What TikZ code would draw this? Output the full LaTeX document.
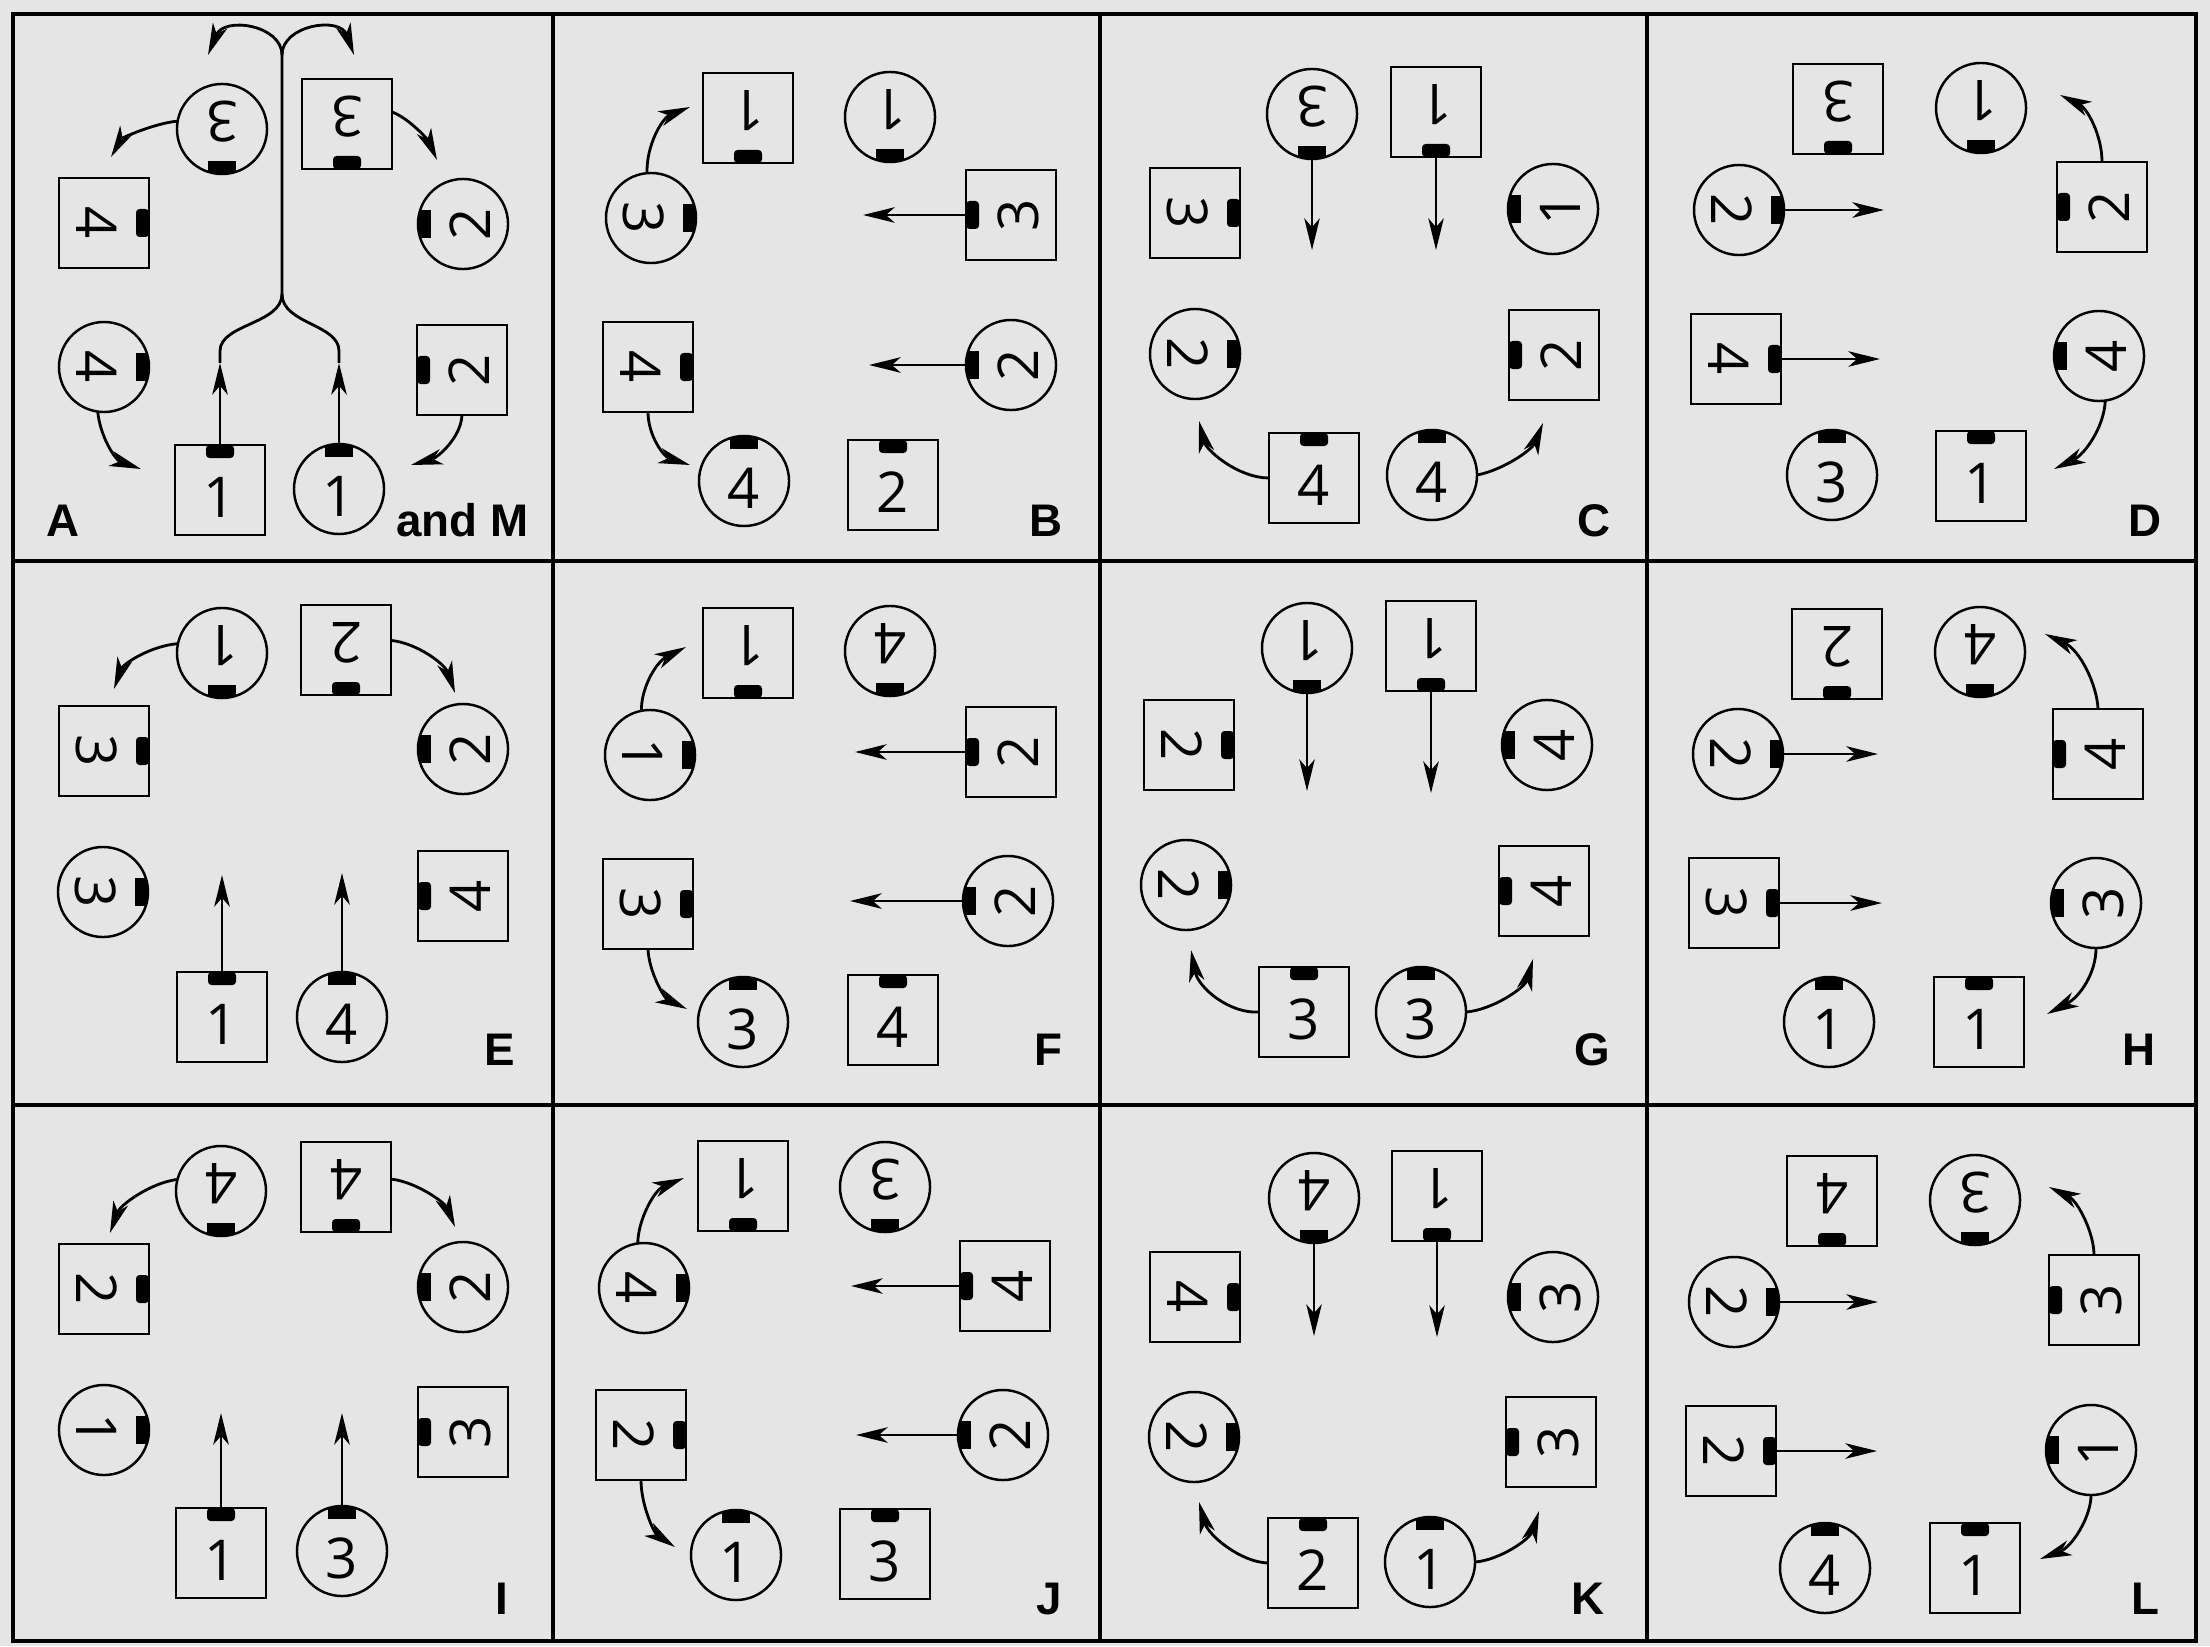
\documentclass[tikz,border=0pt]{standalone}
\usepackage{fontspec}
\newfontfamily\labfont{Liberation Sans}
\newfontfamily\digfont{Open Sans}
\usetikzlibrary{arrows.meta}
\definecolor{bg}{RGB}{229,229,229}
\tikzset{
  sym/.style={draw, line width=0.7pt, minimum size=0.9cm, inner sep=0pt, outer sep=0pt},
  sq/.style={sym, rectangle},
  ci/.style={sym, circle},
  dig/.style={font=\digfont\fontsize{16}{16}\selectfont, inner sep=0pt},
  arr/.style={line width=0.8pt, -{Stealth[length=9pt,width=4.4pt,inset=2.5pt]}},
  con/.style={line width=0.8pt},
  frame/.style={line width=1pt},
  lab/.style={font=\labfont\bfseries\fontsize{13}{13}\selectfont, inner sep=0pt, anchor=base east},
}
\newcommand\SQ[5]{%
  \node[sq] (#1) at (#2,#3) {};
  \begin{scope}[shift={(#2,#3)},rotate=#5]
    \fill[rounded corners=1pt] (-14,-45) rectangle (14,-32);
    \node[dig,rotate=#5] at (0,7) {#4};
  \end{scope}}
\newcommand\CI[5]{%
  \node[ci] (#1) at (#2,#3) {};
  \begin{scope}[shift={(#2,#3)},rotate=#5]
    \begin{scope}\clip (0,0) circle (45); \fill (-14,-46) rectangle (14,-32);\end{scope}
    \node[dig,rotate=#5] at (0,7) {#4};
  \end{scope}}
\begin{document}
\begin{tikzpicture}[x=0.01cm,y=-0.01cm]
\fill[bg] (0,0) rectangle (2210,1646);
\useasboundingbox (0,0) rectangle (2210,1646);
% frame
\draw[frame] (13,14) rectangle (2196,1641);
\draw[frame] (553,14) -- (553,1641);
\draw[frame] (1100,14) -- (1100,1641);
\draw[frame] (1647,14) -- (1647,1641);
\draw[frame] (13,561) -- (2196,561);
\draw[frame] (13,1105) -- (2196,1105);

% ---- Panel A
\CI{Ac3}{222}{129}{3}{180}
\SQ{As3}{347}{124}{3}{180}
\SQ{As4}{104}{223}{4}{-90}
\CI{Ac2}{463}{224}{2}{90}
\CI{Ac4}{104}{367}{4}{-90}
\SQ{As2}{462}{370}{2}{90}
\SQ{As1}{220}{490}{1}{0}
\CI{Ac1}{339}{489}{1}{0}
\coordinate (Ae1) at (111,157); \draw[arr] (Ac3.170) .. controls (155,123) and (122,138) .. (Ae1);
\coordinate (Ae2) at (437,160); \draw[arr] (As3.15) .. controls (410,119) and (428,140) .. (Ae2);
\coordinate (Ae3) at (141,469); \draw[arr] (Ac4.262) .. controls (100,436) and (115,460) .. (Ae3);
\coordinate (Ae4) at (411,465); \draw[arr] (As2.south) .. controls (461,438) and (437,458) .. (Ae4);
\coordinate (Am1) at (220,363); \coordinate (Am2) at (339,363);
\coordinate (Aj) at (282,294); \coordinate (At) at (282,55);
\coordinate (Al) at (208,55); \coordinate (Ar) at (354,55);
\draw[arr] (As1.north) -- (Am1);
\draw[arr] (Ac1.north) -- (Am2);
\draw[con] (Am1) -- ++(0,-12) .. controls (220,324) and (282,324) .. (Aj) -- (At);
\draw[con] (Am2) -- ++(0,-12) .. controls (339,324) and (282,324) .. (Aj);
\draw[arr] (At) .. controls (282,25) and (224,16) .. (Al);
\draw[arr] (At) .. controls (282,25) and (340,16) .. (Ar);
\node[lab, anchor=base west] (lA) at (46,536) {A};
\node[lab] (lM) at (529,536) {and M};

% ---- Panel B
\SQ{Bs1}{748}{118}{1}{180}
\CI{Bc1}{890}{117}{1}{180}
\CI{Bc3}{651}{218}{3}{-90}
\SQ{Bs3}{1011}{215}{3}{90}
\SQ{Bs4}{648}{367}{4}{-90}
\CI{Bc2}{1011}{365}{2}{90}
\CI{Bc4}{744}{481}{4}{0}
\SQ{Bs2}{893}{485}{2}{0}
\coordinate (Be1) at (690,107); \draw[arr] (Bc3.95) .. controls (646,146) and (662,118) .. (Be1);
\coordinate (Bq1) at (863,215); \draw[arr] (Bs3.west) -- (Bq1);
\coordinate (Bq2) at (869,365); \draw[arr] (Bc2.west) -- (Bq2);
\coordinate (Be2) at (690,465); \draw[arr] (Bs4.south) .. controls (648,436) and (664,457) .. (Be2);
\node[lab] (lB) at (1063,536) {B};

% ---- Panel C
\CI{Cc3}{1312}{114}{3}{180}
\SQ{Cs1}{1436}{112}{1}{180}
\SQ{Cs3}{1195}{213}{3}{-90}
\CI{Cc1}{1553}{209}{1}{90}
\CI{Cc2}{1195}{354}{2}{-90}
\SQ{Cs2}{1554}{355}{2}{90}
\SQ{Cs4}{1314}{478}{4}{0}
\CI{Cc4}{1432}{475}{4}{0}
\coordinate (Cq1) at (1312,250); \draw[arr] (Cc3.south) -- (Cq1);
\coordinate (Cq2) at (1436,250); \draw[arr] (Cs1.south) -- (Cq2);
\coordinate (Ce1) at (1199,421); \draw[arr] (Cs4.west) .. controls (1238,478) and (1206,450) .. (Ce1);
\coordinate (Ce2) at (1543,423); \draw[arr] (Cc4.east) .. controls (1503,470) and (1532,450) .. (Ce2);
\node[lab] (lC) at (1611,536) {C};

% ---- Panel D
\SQ{Ds3}{1838}{109}{3}{180}
\CI{Dc1}{1981}{108}{1}{180}
\CI{Dc2}{1739}{210}{2}{-90}
\SQ{Ds2}{2102}{207}{2}{90}
\SQ{Ds4}{1736}{359}{4}{-90}
\CI{Dc4}{2099}{356}{4}{90}
\CI{Dc3}{1832}{475}{3}{0}
\SQ{Ds1}{1981}{476}{1}{0}
\coordinate (Dq1) at (1884,210); \draw[arr] (Dc2.east) -- (Dq1);
\coordinate (De1) at (2060,95); \draw[arr] (Ds2.north) .. controls (2102,135) and (2087,108) .. (De1);
\coordinate (Dq2) at (1880,359); \draw[arr] (Ds4.east) -- (Dq2);
\coordinate (De2) at (2054,469); \draw[arr] (Dc4.278) .. controls (2104,428) and (2084,455) .. (De2);
\node[lab] (lD) at (2162,536) {D};

% ---- Panel E
\CI{Ec1}{222}{653}{1}{180}
\SQ{Es2}{346}{650}{2}{180}
\SQ{Es3}{104}{751}{3}{-90}
\CI{Ec2}{463}{749}{2}{90}
\CI{Ec3}{103}{892}{3}{-90}
\SQ{Es4}{463}{896}{4}{90}
\SQ{Es1}{222}{1017}{1}{0}
\CI{Ec4}{342}{1017}{4}{0}
\coordinate (Ee1) at (114,689); \draw[arr] (Ec1.168) .. controls (150,646) and (123,664) .. (Ee1);
\coordinate (Ee2) at (455,693); \draw[arr] (Es2.12) .. controls (417,643) and (445,664) .. (Ee2);
\coordinate (Eq1) at (222,875); \draw[arr] (Es1.north) -- (Eq1);
\coordinate (Eq2) at (342,873); \draw[arr] (Ec4.north) -- (Eq2);
\node[lab] (lE) at (516,1065) {E};

% ---- Panel F
\SQ{Fs1}{748}{653}{1}{180}
\CI{Fc4}{890}{651}{4}{180}
\CI{Fc1}{650}{755}{1}{-90}
\SQ{Fs2}{1011}{752}{2}{90}
\SQ{Fs3}{648}{904}{3}{-90}
\CI{Fc2}{1008}{901}{2}{90}
\CI{Fc3}{743}{1022}{3}{0}
\SQ{Fs4}{893}{1020}{4}{0}
\coordinate (Fe1) at (686,647); \draw[arr] (Fc1.101) .. controls (641,688) and (656,662) .. (Fe1);
\coordinate (Fq1) at (855,752); \draw[arr] (Fs2.west) -- (Fq1);
\coordinate (Fe2) at (687,1009); \draw[arr] (Fs3.south) .. controls (649,972) and (664,998) .. (Fe2);
\coordinate (Fq2) at (850,901); \draw[arr] (Fc2.west) -- (Fq2);
\node[lab] (lF) at (1063,1065) {F};

% ---- Panel G
\CI{Gc1}{1307}{648}{1}{180}
\SQ{Gs1}{1431}{646}{1}{180}
\SQ{Gs2}{1189}{745}{2}{-90}
\CI{Gc4}{1547}{745}{4}{90}
\CI{Gc2}{1186}{885}{2}{-90}
\SQ{Gs4}{1544}{891}{4}{90}
\SQ{Gs3}{1304}{1012}{3}{0}
\CI{Gc3}{1421}{1012}{3}{0}
\coordinate (Gq1) at (1307,791); \draw[arr] (Gc1.south) -- (Gq1);
\coordinate (Gq2) at (1431,793); \draw[arr] (Gs1.south) -- (Gq2);
\coordinate (Ge1) at (1191,950); \draw[arr] (Gs3.west) .. controls (1230,1014) and (1198,988) .. (Ge1);
\coordinate (Ge2) at (1533,959); \draw[arr] (Gc3.east) .. controls (1492,1010) and (1525,988) .. (Ge2);
\node[lab] (lG) at (1611,1065) {G};

% ---- Panel H
\SQ{Hs2}{1837}{654}{2}{180}
\CI{Hc4}{1980}{652}{4}{180}
\CI{Hc2}{1738}{754}{2}{-90}
\SQ{Hs4}{2098}{754}{4}{90}
\SQ{Hs3}{1734}{903}{3}{-90}
\CI{Hc3}{2096}{903}{3}{90}
\CI{Hc1}{1829}{1022}{1}{0}
\SQ{Hs1}{1979}{1022}{1}{0}
\coordinate (Hq1) at (1878,754); \draw[arr] (Hc2.east) -- (Hq1);
\coordinate (He1) at (2045,634); \draw[arr] (Hs4.north) .. controls (2097,685) and (2080,650) .. (He1);
\coordinate (Hq2) at (1882,903); \draw[arr] (Hs3.east) -- (Hq2);
\coordinate (He2) at (2047,1014); \draw[arr] (Hc3.south) .. controls (2096,973) and (2080,997) .. (He2);
\node[lab] (lH) at (2156,1065) {H};

% ---- Panel I
\CI{Ic4}{221}{1191}{4}{180}
\SQ{Is4}{346}{1187}{4}{180}
\SQ{Is2}{104}{1289}{2}{-90}
\CI{Ic2}{463}{1287}{2}{90}
\CI{Ic1}{104}{1430}{1}{-90}
\SQ{Is3}{463}{1432}{3}{90}
\SQ{Is1}{221}{1553}{1}{0}
\CI{Ic3}{342}{1551}{3}{0}
\coordinate (Ie1) at (110,1233); \draw[arr] (Ic4.165) .. controls (150,1183) and (120,1205) .. (Ie1);
\coordinate (Ie2) at (455,1227); \draw[arr] (Is4.10) .. controls (417,1182) and (445,1203) .. (Ie2);
\coordinate (Iq1) at (221,1413); \draw[arr] (Is1.north) -- (Iq1);
\coordinate (Iq2) at (342,1413); \draw[arr] (Ic3.north) -- (Iq2);
\node[lab] (lI) at (509,1614) {I};

% ---- Panel J
\SQ{Js1}{743}{1186}{1}{180}
\CI{Jc3}{885}{1187}{3}{180}
\CI{Jc4}{644}{1288}{4}{-90}
\SQ{Js4}{1005}{1286}{4}{90}
\SQ{Js2}{641}{1435}{2}{-90}
\CI{Jc2}{1003}{1435}{2}{90}
\CI{Jc1}{736}{1555}{1}{0}
\SQ{Js3}{885}{1554}{3}{0}
\coordinate (Je1) at (684,1178); \draw[arr] (Jc4.98) .. controls (638,1220) and (654,1190) .. (Je1);
\coordinate (Jq1) at (851,1286); \draw[arr] (Js4.west) -- (Jq1);
\coordinate (Je2) at (675,1547); \draw[arr] (Js2.south) .. controls (641,1505) and (654,1533) .. (Je2);
\coordinate (Jq2) at (856,1435); \draw[arr] (Jc2.west) -- (Jq2);
\node[lab] (lJ) at (1063,1614) {J};

% ---- Panel K
\CI{Kc4}{1314}{1198}{4}{180}
\SQ{Ks1}{1437}{1196}{1}{180}
\SQ{Ks4}{1195}{1297}{4}{-90}
\CI{Kc3}{1553}{1297}{3}{90}
\CI{Kc2}{1194}{1437}{2}{-90}
\SQ{Ks3}{1551}{1442}{3}{90}
\SQ{Ks2}{1313}{1563}{2}{0}
\CI{Kc1}{1430}{1562}{1}{0}
\coordinate (Kq1) at (1314,1336); \draw[arr] (Kc4.south) -- (Kq1);
\coordinate (Kq2) at (1437,1337); \draw[arr] (Ks1.south) -- (Kq2);
\coordinate (Ke1) at (1199,1502); \draw[arr] (Ks2.west) .. controls (1240,1562) and (1208,1535) .. (Ke1);
\coordinate (Ke2) at (1539,1511); \draw[arr] (Kc1.east) .. controls (1500,1560) and (1530,1539) .. (Ke2);
\node[lab] (lK) at (1605,1614) {K};

% ---- Panel L
\SQ{Ls4}{1832}{1201}{4}{180}
\CI{Lc3}{1975}{1200}{3}{180}
\CI{Lc2}{1734}{1302}{2}{-90}
\SQ{Ls3}{2094}{1300}{3}{90}
\SQ{Ls2}{1731}{1451}{2}{-90}
\CI{Lc1}{2091}{1450}{1}{90}
\CI{Lc4}{1825}{1568}{4}{0}
\SQ{Ls1}{1975}{1568}{1}{0}
\coordinate (Lq1) at (1878,1302); \draw[arr] (Lc2.east) -- (Lq1);
\coordinate (Le1) at (2049,1187); \draw[arr] (Ls3.north) .. controls (2094,1233) and (2078,1201) .. (Le1);
\coordinate (Lq2) at (1877,1451); \draw[arr] (Ls2.east) -- (Lq2);
\coordinate (Le2) at (2040,1559); \draw[arr] (Lc1.south) .. controls (2091,1517) and (2072,1547) .. (Le2);
\node[lab] (lL) at (2160,1614) {L};
\end{tikzpicture}
\end{document}
